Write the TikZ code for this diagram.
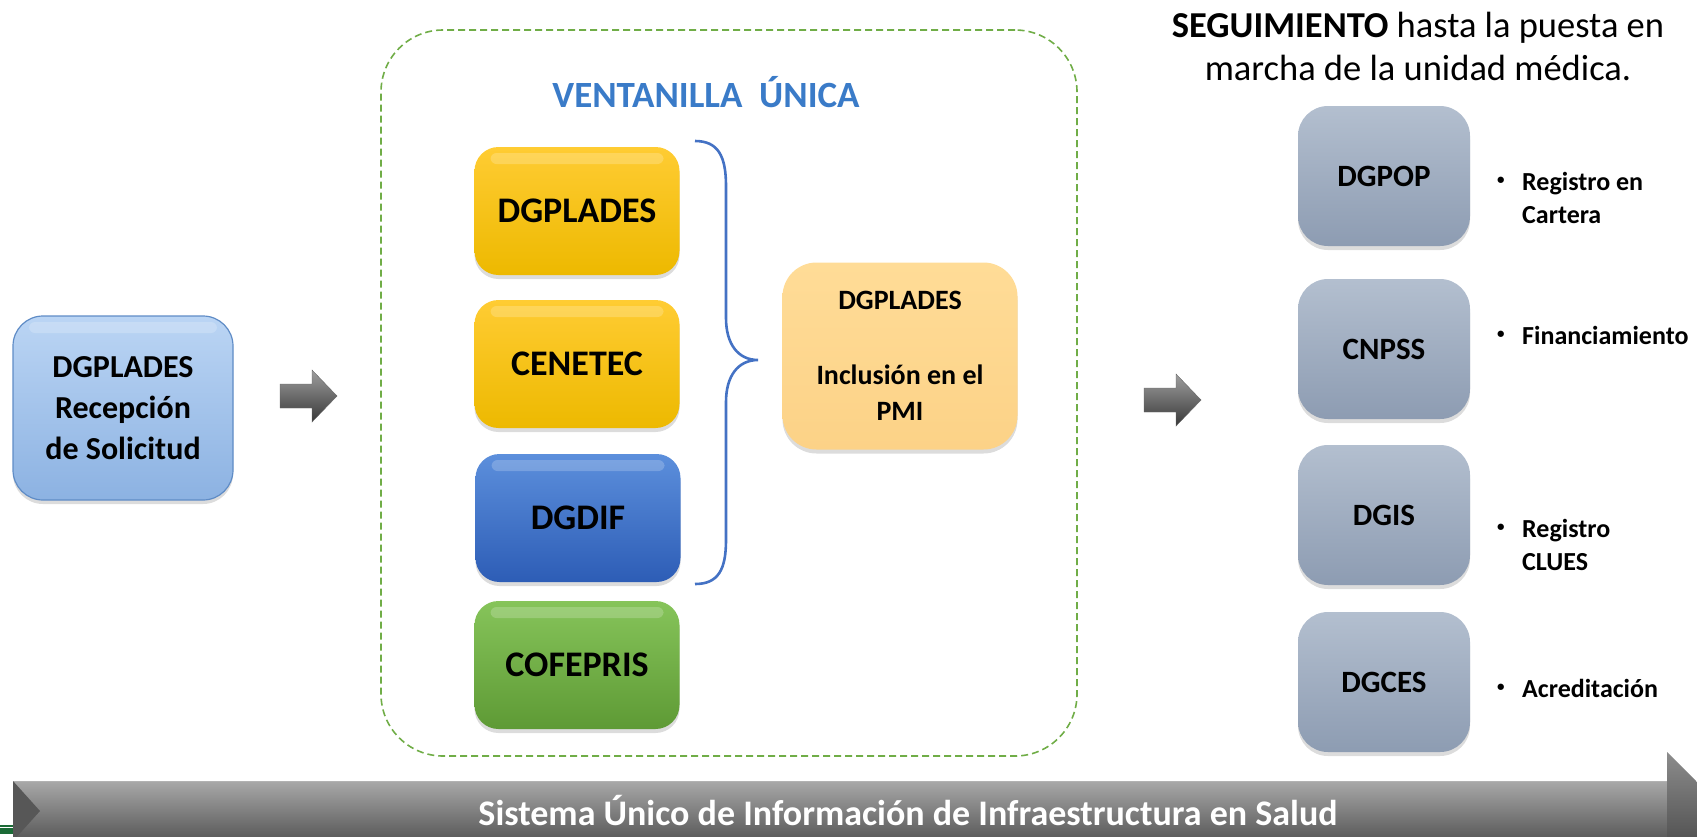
\documentclass[tikz,border=0pt]{standalone}
\usepackage{fontspec}
\setmainfont{Carlito}
\usetikzlibrary{shadows,calc}
\definecolor{lbTop}{HTML}{BBD5F4}
\definecolor{lbBot}{HTML}{8CB2E2}
\definecolor{lbEdge}{HTML}{5F8CC6}
\definecolor{yTop}{HTML}{FFCC33}
\definecolor{yBot}{HTML}{EDB900}
\definecolor{bTop}{HTML}{5C8FDC}
\definecolor{bBot}{HTML}{2D5DB6}
\definecolor{gTop}{HTML}{86C45A}
\definecolor{gBot}{HTML}{5E9A35}
\definecolor{oTop}{HTML}{FFDC97}
\definecolor{oBot}{HTML}{FCD287}
\definecolor{grTop}{HTML}{B3BFCF}
\definecolor{grBot}{HTML}{8D9CB2}
\definecolor{dashG}{HTML}{70AD47}
\definecolor{braceB}{HTML}{4472C4}
\definecolor{titleB}{HTML}{3A7BC8}
\definecolor{slideG}{HTML}{1B6B36}
\newcommand{\bul}{\makebox[28pt][l]{\hspace*{3pt}\raisebox{6pt}{\fontsize{15}{15}\selectfont•}}}
\begin{document}
\begin{tikzpicture}[x=1pt,y=-1pt,
  shadowed/.style={drop shadow={opacity=0.28,shadow xshift=0pt,shadow yshift=-4pt}},
  gloss/.style={path picture={\fill[white,opacity=0.2,rounded corners=6pt]
      ([xshift=16pt,yshift=-6pt]path picture bounding box.north west) rectangle
      ([xshift=-16pt,yshift=-17pt]path picture bounding box.north east);}},
  card/.style={shadowed,rounded corners=24pt,align=center,inner sep=4pt,font=\bfseries},
  leftbox/.style={card,gloss,rounded corners=30pt,top color=lbTop,bottom color=lbBot,draw=lbEdge,line width=1.2pt,
     minimum width=220pt,minimum height=184pt,font=\fontsize{32}{41}\selectfont\bfseries},
  vbox/.style={card,gloss,minimum width=205pt,minimum height=128pt,font=\fontsize{36}{42}\selectfont\bfseries},
  ybox/.style={vbox,top color=yTop,bottom color=yBot},
  bbox/.style={vbox,top color=bTop,bottom color=bBot},
  gbox/.style={vbox,top color=gTop,bottom color=gBot},
  obox/.style={card,rounded corners=34pt,top color=oTop,bottom color=oBot,minimum width=235pt,minimum height=187pt,
     font=\fontsize{28}{36}\selectfont\bfseries},
  grbox/.style={card,rounded corners=30pt,top color=grTop,bottom color=grBot,minimum width=172pt,minimum height=140pt,
     font=\fontsize{31}{36}\selectfont\bfseries},
  bullet/.style={anchor=west,align=left,inner sep=0pt,font=\fontsize{26}{33}\selectfont\bfseries},
  smallarrow/.style={top color=black!38,bottom color=black!78,draw=black!60,line width=0.4pt},
]
\useasboundingbox (0,0) rectangle (1697,836);
\clip (0,0) rectangle (1697,836);

% ventanilla container
\node[draw=dashG,line width=1.6pt,dash pattern=on 7pt off 4pt,rounded corners=62pt,
      minimum width=696pt,minimum height=726pt] (vu) at (729,393) {};
\node[text=titleB,font=\fontsize{37}{44}\selectfont\bfseries] (vut) at (706,92) {VENTANILLA\ \ ÚNICA};

% left box
\node[leftbox] (rec) at (123,408) {DGPLADES\\Recepción\\de Solicitud};

% arrow 1
\coordinate (a1s) at (280,396);
\coordinate (a1e) at (337,396);
\draw[smallarrow] ($(a1s)+(0,-12)$) -- ($(a1e)+(-25,-12)$) -- ($(a1e)+(-25,-26)$) -- (a1e)
   -- ($(a1e)+(-25,26)$) -- ($(a1e)+(-25,12)$) -- ($(a1s)+(0,12)$) -- cycle;

% ventanilla boxes
\node[ybox] (d1) at (577,211) {DGPLADES};
\node[ybox] (d2) at (577,364) {CENETEC};
\node[bbox] (d3) at (578,518) {DGDIF};
\node[gbox] (d4) at (577,665) {COFEPRIS};

% brace
\coordinate (brT) at (695,141);
\coordinate (brM) at (758,360);
\coordinate (brB) at (695,584);
\draw[braceB,line width=2.6pt] (brT) .. controls (718,141) and (726,156) .. (726,186) -- (726,318)
   .. controls (726,344) and (738,360) .. (brM)
   .. controls (738,360) and (726,376) .. (726,402) -- (726,540)
   .. controls (726,570) and (718,584) .. (brB);

% inclusion
\node[obox] (pmi) at (900,356) {DGPLADES\\[39pt]Inclusión en el\\PMI};

% arrow 2
\coordinate (a2s) at (1144,400);
\coordinate (a2e) at (1201,400);
\draw[smallarrow] ($(a2s)+(0,-12)$) -- ($(a2e)+(-25,-12)$) -- ($(a2e)+(-25,-26)$) -- (a2e)
   -- ($(a2e)+(-25,26)$) -- ($(a2e)+(-25,12)$) -- ($(a2s)+(0,12)$) -- cycle;

% seguimiento
\node[align=center,inner sep=0pt,font=\fontsize{36.5}{43}\selectfont] (seg) at (1418,46)
   {\textbf{SEGUIMIENTO} hasta la puesta en\\marcha de la unidad médica.};
\node[grbox] (g1) at (1384,176) {DGPOP};
\node[grbox] (g2) at (1384,349) {CNPSS};
\node[grbox] (g3) at (1384,515) {DGIS};
\node[grbox] (g4) at (1384,682) {DGCES};
\node[bullet] (b1) at (1494,198) {\bul Registro en\\\hspace*{28pt}Cartera};
\node[bullet] (b2) at (1494,335) {\bul Financiamiento};
\node[bullet] (b3) at (1494,545) {\bul Registro\\\hspace*{28pt}CLUES};
\node[bullet] (b4) at (1494,688) {\bul Acreditación};

% bottom bar
\fill[slideG] (0,825) rectangle (13,834);
\draw[white,line width=0.8pt] (0,827) -- (13,827);
\shade[top color=black!34,middle color=black!62,bottom color=black!66] (13,781) rectangle (1667,841);
\draw[black!30,line width=1pt] (13,781.5) -- (1667,781.5);
\fill[black!66] (13,781) -- (40,811) -- (13,841) -- cycle;
\shade[top color=black!45,bottom color=black!75] (1667,752) -- (1726,811) -- (1667,870) -- cycle;
\node[text=white,font=\fontsize{36}{42}\selectfont\bfseries] (sis) at (908,811)
   {Sistema Único de Información de Infraestructura en Salud};
\end{tikzpicture}
\end{document}
